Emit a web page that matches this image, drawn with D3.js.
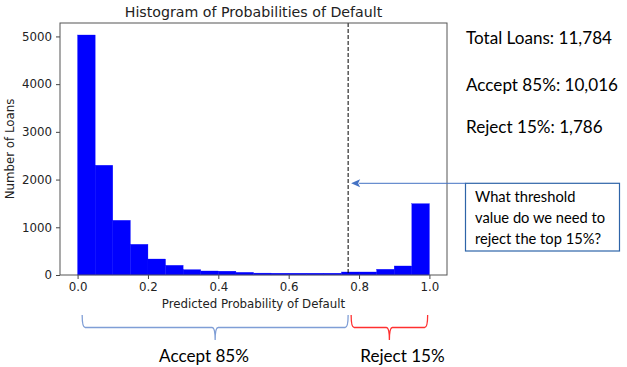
<!DOCTYPE html>
<html><head><meta charset="utf-8">
<script src="https://cdn.jsdelivr.net/npm/d3@7"></script>
<style>body{margin:0;background:#fff}svg{display:block}</style>
</head><body>
<svg id="c" width="627" height="367"></svg>
<script>
const binEdges = [0,0.05,0.1,0.15,0.2,0.25,0.3,0.35,0.4,0.45,0.5,0.55,0.6,0.65,0.7,0.75,0.8,0.85,0.9,0.95,1.0];
const counts = [5030,2300,1146,643,335,203,112,84,80,56,40,38,38,38,38,63,63,120,189,1495];
const xTicks = [0,0.2,0.4,0.6,0.8,1.0];
const yTicks = [0,1000,2000,3000,4000,5000];
const threshold = 0.769;
const title = "Histogram of Probabilities of Default";
const xLabel = "Predicted Probability of Default";
const yLabel = "Number of Loans";
const sideTexts = ["Total Loans: 11,784","Accept 85%: 10,016","Reject 15%: 1,786"];
const boxLines = ["What threshold","value do we need to","reject the top 15%?"];
const braceLabels = ["Accept 85%","Reject 15%"];

const svg = d3.select("#c");
const L=60,R=447,T=23,B=275;
const x = d3.scaleLinear().domain([-0.05,1.05]).range([L,R]);
const yMax = d3.max(counts)*1.05;
const y = d3.scaleLinear().domain([0,yMax]).range([B,T]);

const bins = counts.map((c,i)=>({x0:binEdges[i],x1:binEdges[i+1],c}));
svg.append("g").selectAll("rect").data(bins).join("rect")
  .attr("x",d=>x(d.x0)).attr("width",d=>x(d.x1)-x(d.x0))
  .attr("y",d=>y(d.c)).attr("height",d=>B-y(d.c))
  .attr("fill","#0000ff").attr("stroke","#0000ff").attr("stroke-width",0.3);

// dashed threshold
svg.append("line").attr("x1",x(threshold)).attr("x2",x(threshold)).attr("y1",T).attr("y2",B)
  .attr("stroke","#000").attr("stroke-width",1).attr("stroke-dasharray","4,2");

// axes
const fontMpl = "'DejaVu Sans', sans-serif";
const xa = svg.append("g").attr("transform",`translate(0,${B})`)
  .call(d3.axisBottom(x).tickValues(xTicks).tickFormat(d3.format(".1f")).tickSize(4).tickPadding(4).tickSizeOuter(0));
const ya = svg.append("g").attr("transform",`translate(${L},0)`)
  .call(d3.axisLeft(y).tickValues(yTicks).tickFormat(d3.format("d")).tickSize(4).tickPadding(4).tickSizeOuter(0));
[xa,ya].forEach(g=>{
  g.select(".domain").remove();
  g.selectAll("line").attr("stroke","#444");
  g.selectAll("text").attr("font-family",fontMpl).attr("font-size",11.8).attr("fill","#222");
});
svg.append("rect").attr("x",L).attr("y",T).attr("width",R-L).attr("height",B-T)
  .attr("fill","none").attr("stroke","#555").attr("stroke-width",1);

svg.append("text").attr("x",(L+R)/2).attr("y",17).attr("text-anchor","middle")
  .attr("font-family",fontMpl).attr("font-size",14.2).attr("fill","#222").text(title);
svg.append("text").attr("x",(L+R)/2).attr("y",308).attr("text-anchor","middle")
  .attr("font-family",fontMpl).attr("font-size",11.8).attr("fill","#222").text(xLabel);
svg.append("text").attr("transform",`translate(14,${(T+B)/2}) rotate(-90)`).attr("text-anchor","middle")
  .attr("font-family",fontMpl).attr("font-size",11.8).attr("fill","#222").text(yLabel);

// side texts
const fontCal = "Lato, 'Open Sans', sans-serif";
const sideY = [44,90.5,133];
sideTexts.forEach((t,i)=>{
  svg.append("text").attr("x",466).attr("y",sideY[i]).attr("font-family",fontCal)
    .attr("font-size",17.1).attr("fill","#000").text(t);
});

// box + arrow
const bx=465.5, by=183.3, bw=154, bh=67.7;
svg.append("rect").attr("x",bx).attr("y",by).attr("width",bw).attr("height",bh)
  .attr("fill","#fff").attr("stroke","#2E64A8").attr("stroke-width",1.2);
const boxY=[202,223,244];
boxLines.forEach((t,i)=>{
  svg.append("text").attr("x",475).attr("y",boxY[i]).attr("font-family",fontCal)
    .attr("font-size",14.7).attr("fill","#000").text(t);
});
const ax = x(threshold)+3;
svg.append("line").attr("x1",bx).attr("x2",ax+8).attr("y1",by).attr("y2",by)
  .attr("stroke","#4472C4").attr("stroke-width",1);
svg.append("path").attr("d",`M${ax},${by} L${ax+9},${by-4} L${ax+7},${by} L${ax+9},${by+4} Z`)
  .attr("fill","#4472C4");

// braces
function brace(x0,x1,ytop,ymid,ytip,color){
  const xm=(x0+x1)/2, r=3;
  const p=`M${x0},${ytop} Q${x0},${ymid} ${x0+r},${ymid} L${xm-r},${ymid} Q${xm},${ymid} ${xm},${ytip} Q${xm},${ymid} ${xm+r},${ymid} L${x1-r},${ymid} Q${x1},${ymid} ${x1},${ytop}`;
  svg.append("path").attr("d",p).attr("fill","none").attr("stroke",color).attr("stroke-width",1.3);
}
brace(x(0.013),x(threshold),315,327.5,340,"#7F9ED6");
brace(x(threshold)+3,x(0.995),315,327.5,340,"#FF3030");
const bl=[[204,braceLabels[0]],[402.5,braceLabels[1]]];
bl.forEach(([cx,t])=>{
  svg.append("text").attr("x",cx).attr("y",361.5).attr("text-anchor","middle")
    .attr("font-family",fontCal).attr("font-size",17.1).attr("fill","#000").text(t);
});
</script>
</body></html>
